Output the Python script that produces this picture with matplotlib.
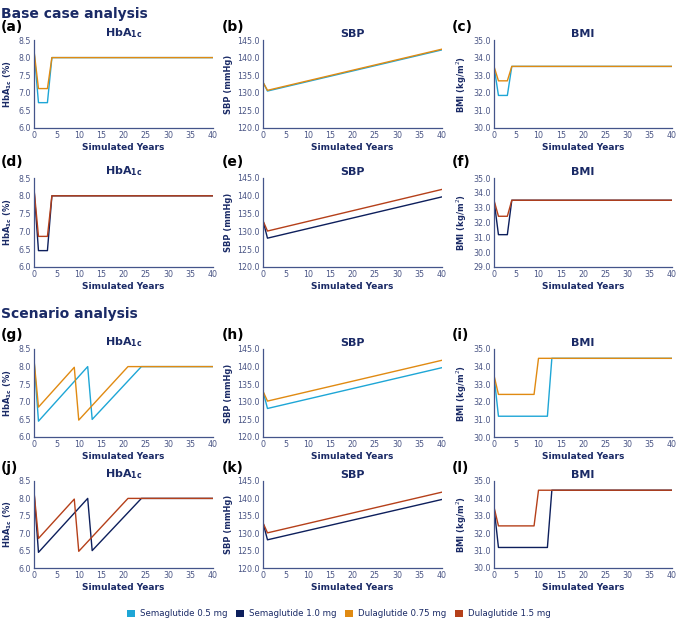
import matplotlib
matplotlib.use("Agg")
import matplotlib.pyplot as plt
from matplotlib.patches import Patch

# series names and colours
names = ["Semaglutide 0.5 mg", "Semaglutide 1.0 mg", "Dulaglutide 0.75 mg", "Dulaglutide 1.5 mg"]
colors = ["#1ea6d6", "#0d1f5c", "#e08a12", "#b5401a"]

# base case: HbA1c
hba1c_base_years = [0, 1, 3, 4, 40]
hba1c_base_sema05 = [8.2, 6.72, 6.72, 8.0, 8.0]
hba1c_base_dula075 = [8.2, 7.12, 7.12, 8.0, 8.0]
hba1c_base_sema10 = [8.2, 6.46, 6.46, 8.0, 8.0]
hba1c_base_dula15 = [8.2, 6.86, 6.86, 8.0, 8.0]

# SBP (same shape in both analyses)
sbp_years = [0, 1, 40]
sbp_base_sema05 = [133.0, 130.5, 142.2]
sbp_base_dula075 = [133.0, 130.7, 142.4]
sbp_sema10 = [133.0, 128.1, 139.7]
sbp_dula15 = [133.0, 130.1, 141.8]
sbp_scen_sema05 = [133.0, 128.1, 139.7]
sbp_scen_dula075 = [133.0, 130.2, 141.8]

# base case: BMI
bmi_base_years = [0, 1, 3, 4, 40]
bmi_base_sema05 = [33.5, 31.85, 31.85, 33.5, 33.5]
bmi_base_dula075 = [33.5, 32.68, 32.68, 33.5, 33.5]
bmi_base_sema10 = [33.5, 31.18, 31.18, 33.5, 33.5]
bmi_base_dula15 = [33.5, 32.42, 32.42, 33.5, 33.5]

# scenario: HbA1c
hba1c_scen_sema_years = [0, 1, 12, 13, 24, 40]
hba1c_scen_sema = [8.2, 6.45, 8.0, 6.5, 8.0, 8.0]
hba1c_scen_dula_years = [0, 1, 9, 10, 21, 40]
hba1c_scen_dula = [8.2, 6.85, 7.98, 6.48, 8.0, 8.0]

# scenario: BMI
bmi_scen_sema_years = [0, 1, 12, 13, 40]
bmi_scen_sema = [33.5, 31.18, 31.18, 34.47, 34.47]
bmi_scen_dula_years = [0, 1, 9, 10, 40]
bmi_scen_dula = [33.5, 32.42, 32.42, 34.47, 34.47]

navy = "#1a2a66"
tick_col = "#4a5585"
spine_col = "#44548a"
HBA = r"HbA$_{\mathbf{1c}}$"

fig = plt.figure(figsize=(6.77, 6.22), dpi=100)

lefts = [34, 263, 494]
widths = [179, 179, 178]
rows = [(40, 128), (178, 267), (349, 437), (481, 568)]


def make_ax(r, c):
    top, bot = rows[r]
    return fig.add_axes([lefts[c] / 677, 1 - bot / 622, widths[c] / 677, (bot - top) / 622])


def style(ax, title, ylabel, ylim, ystep):
    ax.set_xlim(0, 40)
    ax.set_ylim(*ylim)
    ax.set_xticks(range(0, 41, 5))
    yt = []
    v = ylim[0]
    while v <= ylim[1] + 1e-9:
        yt.append(v)
        v += ystep
    ax.set_yticks(yt)
    ax.set_yticklabels([f"{t:.1f}" for t in yt])
    for s in ["top", "right"]:
        ax.spines[s].set_visible(False)
    for s in ["left", "bottom"]:
        ax.spines[s].set_color(spine_col)
        ax.spines[s].set_linewidth(0.9)
    ax.tick_params(length=0, labelsize=5.7, labelcolor=tick_col, pad=2.5)
    ax.set_title(title, fontsize=8, fontweight="bold", color=navy, pad=2)
    ax.set_ylabel(ylabel, fontsize=6, fontweight="bold", color=navy, labelpad=3)
    ax.set_xlabel("Simulated Years", fontsize=6.5, fontweight="bold", color=navy, labelpad=2)


lw = 1.0
panel_letters = "abcdefghijkl"

# row 1: base, 0.5 / 0.75
ax = make_ax(0, 0)
ax.plot(hba1c_base_years, hba1c_base_sema05, color=colors[0], lw=lw)
ax.plot(hba1c_base_years, hba1c_base_dula075, color=colors[2], lw=lw)
style(ax, HBA, HBA + " (%)", (6.0, 8.5), 0.5)
ax = make_ax(0, 1)
ax.plot(sbp_years, sbp_base_sema05, color=colors[0], lw=lw)
ax.plot(sbp_years, sbp_base_dula075, color=colors[2], lw=lw)
style(ax, "SBP", "SBP (mmHg)", (120, 145), 5)
ax = make_ax(0, 2)
ax.plot(bmi_base_years, bmi_base_sema05, color=colors[0], lw=lw)
ax.plot(bmi_base_years, bmi_base_dula075, color=colors[2], lw=lw)
style(ax, "BMI", "BMI (kg/m$^2$)", (30, 35), 1)

# row 2: base, 1.0 / 1.5
ax = make_ax(1, 0)
ax.plot(hba1c_base_years, hba1c_base_sema10, color=colors[1], lw=lw)
ax.plot(hba1c_base_years, hba1c_base_dula15, color=colors[3], lw=lw)
style(ax, HBA, HBA + " (%)", (6.0, 8.5), 0.5)
ax = make_ax(1, 1)
ax.plot(sbp_years, sbp_sema10, color=colors[1], lw=lw)
ax.plot(sbp_years, sbp_dula15, color=colors[3], lw=lw)
style(ax, "SBP", "SBP (mmHg)", (120, 145), 5)
ax = make_ax(1, 2)
ax.plot(bmi_base_years, bmi_base_sema10, color=colors[1], lw=lw)
ax.plot(bmi_base_years, bmi_base_dula15, color=colors[3], lw=lw)
style(ax, "BMI", "BMI (kg/m$^2$)", (29, 35), 1)

# rows 3-4: scenario
for r, (cs, cd, sbp_s, sbp_d) in enumerate([(colors[0], colors[2], sbp_scen_sema05, sbp_scen_dula075),
                                            (colors[1], colors[3], sbp_sema10, sbp_dula15)]):
    ax = make_ax(2 + r, 0)
    ax.plot(hba1c_scen_sema_years, hba1c_scen_sema, color=cs, lw=lw)
    ax.plot(hba1c_scen_dula_years, hba1c_scen_dula, color=cd, lw=lw)
    style(ax, HBA, HBA + " (%)", (6.0, 8.5), 0.5)
    ax = make_ax(2 + r, 1)
    ax.plot(sbp_years, sbp_s, color=cs, lw=lw)
    ax.plot(sbp_years, sbp_d, color=cd, lw=lw)
    style(ax, "SBP", "SBP (mmHg)", (120, 145), 5)
    ax = make_ax(2 + r, 2)
    ax.plot(bmi_scen_sema_years, bmi_scen_sema, color=cs, lw=lw)
    ax.plot(bmi_scen_dula_years, bmi_scen_dula, color=cd, lw=lw)
    style(ax, "BMI", "BMI (kg/m$^2$)", (30, 35), 1)

# panel letters
label_x = [1, 222, 452]
label_y = [27, 162, 335, 468]
i = 0
for r in range(4):
    for c in range(3):
        fig.text(label_x[c] / 677, 1 - label_y[r] / 622, f"({panel_letters[i]})",
                 fontsize=10, fontweight="bold", color="black", va="center", ha="left")
        i += 1

fig.text(1 / 677, 1 - 14 / 622, "Base case analysis", fontsize=10, fontweight="bold",
         color=navy, va="center", ha="left")
fig.text(1 / 677, 1 - 314 / 622, "Scenario analysis", fontsize=10, fontweight="bold",
         color=navy, va="center", ha="left")

handles = [Patch(facecolor=c, edgecolor="none") for c in colors]
fig.legend(handles, names, loc="center", bbox_to_anchor=(0.5, 1 - 614 / 622), ncol=4,
           frameon=False, fontsize=6.2, handlelength=1.0, handleheight=1.0,
           columnspacing=1.0, handletextpad=0.5, labelcolor=navy)

fig.savefig("out.png", dpi=100)
